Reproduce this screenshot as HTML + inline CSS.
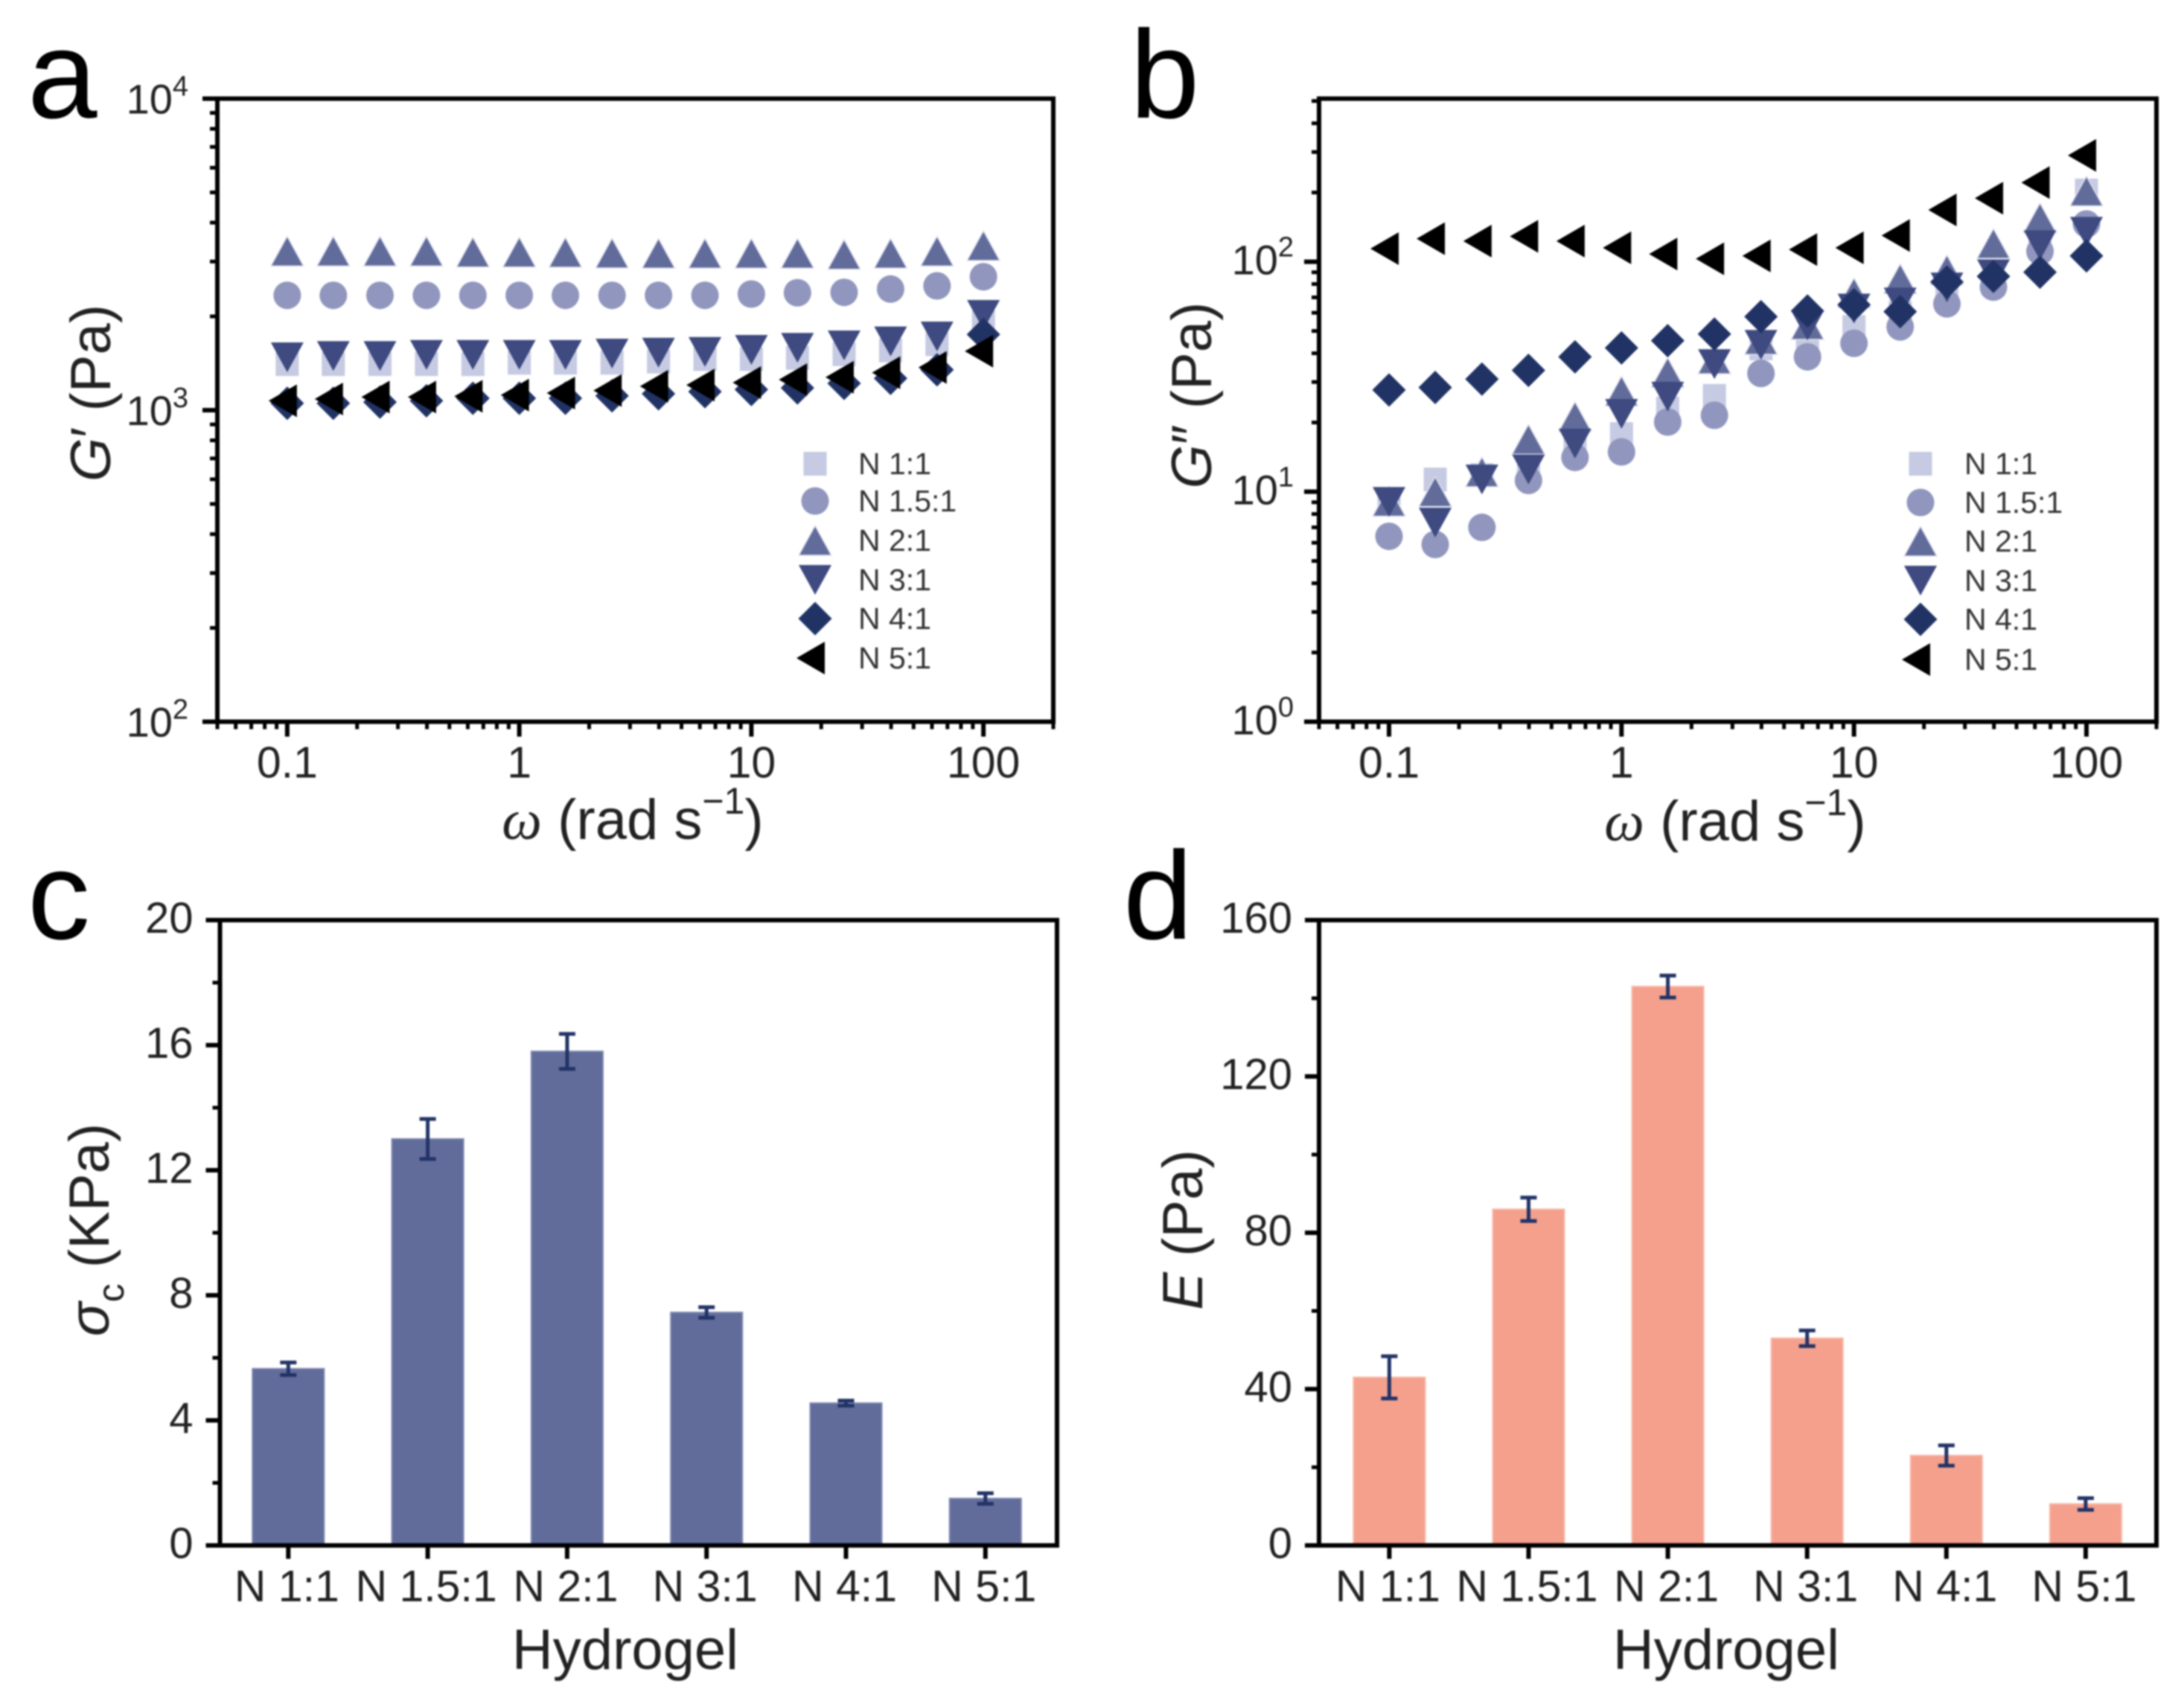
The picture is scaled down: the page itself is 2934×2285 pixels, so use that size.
<!DOCTYPE html>
<html lang="en">
<head>
<meta charset="utf-8">
<title>Hydrogel rheology and compression charts</title>
<style>
html,body{margin:0;padding:0;background:#fff;}
#figure{display:block;width:2934px;height:2285px;filter:blur(1px);font-family:"Liberation Sans",Arial,sans-serif;}
</style>
</head>
<body>
<svg id="figure" xmlns="http://www.w3.org/2000/svg" width="2934" height="2285" viewBox="0 0 2934 2285">
<rect width="2934" height="2285" fill="#ffffff"></rect>
<text x="37" y="158" font-size="168" fill="#000">a</text>
<text x="1518" y="158" font-size="168" fill="#000">b</text>
<text x="37" y="1261" font-size="168" fill="#000">c</text>
<text x="1509" y="1261" font-size="168" fill="#000">d</text>

<text transform="translate(148 528) rotate(-90)" text-anchor="middle" font-size="76" fill="#222"><tspan font-style="italic">G</tspan>′ (Pa)</text>
<text transform="translate(1627 531) rotate(-90)" text-anchor="middle" font-size="76" fill="#222"><tspan font-style="italic">G</tspan>″ (Pa)</text>
<text transform="translate(146 1652) rotate(-90)" text-anchor="middle" font-size="76" fill="#222"><tspan font-style="italic">σ</tspan><tspan font-size="50" dy="20">c</tspan><tspan dy="-20"> (KPa)</tspan></text>
<text transform="translate(1615 1652) rotate(-90)" text-anchor="middle" font-size="76" fill="#222"><tspan font-style="italic">E</tspan> (Pa)</text>

<text x="850" y="1127" text-anchor="middle" font-size="76" fill="#222"><tspan font-family="'Liberation Serif',serif" font-style="italic">ω</tspan> (rad s<tspan font-size="50" dy="-34">−1</tspan><tspan dy="34">)</tspan></text>
<text x="2331" y="1129" text-anchor="middle" font-size="76" fill="#222"><tspan font-family="'Liberation Serif',serif" font-style="italic">ω</tspan> (rad s<tspan font-size="50" dy="-34">−1</tspan><tspan dy="34">)</tspan></text>
<text x="840" y="2242" text-anchor="middle" font-size="76" fill="#222">Hydrogel</text>
<text x="2319" y="2242" text-anchor="middle" font-size="76" fill="#222">Hydrogel</text>
<g id="layer"></g>
</svg>
<script>
/* ---------- shared data ---------- */
const frequencies = [0.1, 0.158, 0.251, 0.398, 0.631, 1, 1.58, 2.51, 3.98, 6.31, 10, 15.8, 25.1, 39.8, 63.1, 100];
const seriesLabels = ['N 1:1', 'N 1.5:1', 'N 2:1', 'N 3:1', 'N 4:1', 'N 5:1'];
const hydrogelLabels = ['N 1:1', 'N 1.5:1', 'N 2:1', 'N 3:1', 'N 4:1', 'N 5:1'];
const logXTickValues = [0.1, 1, 10, 100];
const logXTickLabels = ['0.1', '1', '10', '100'];

/* ---------- panel a: storage modulus ---------- */
const storageN11 = [1406, 1406, 1406, 1406, 1406, 1420, 1420, 1420, 1432, 1459, 1459, 1472, 1513, 1555, 1629, 1914];
const storageN151 = [2337, 2337, 2337, 2337, 2337, 2337, 2337, 2337, 2337, 2337, 2359, 2382, 2389, 2448, 2506, 2681];
const storageN21 = [3240, 3240, 3240, 3240, 3216, 3216, 3211, 3193, 3188, 3188, 3188, 3188, 3163, 3188, 3240, 3374];
const storageN31 = [1478, 1492, 1492, 1505, 1505, 1505, 1505, 1519, 1530, 1538, 1561, 1585, 1614, 1662, 1724, 2022];
const storageN41 = [1052, 1052, 1062, 1072, 1092, 1092, 1092, 1112, 1129, 1147, 1165, 1179, 1219, 1265, 1348, 1750];
const storageN51 = [1072, 1086, 1102, 1102, 1108, 1118, 1135, 1156, 1193, 1204, 1226, 1253, 1276, 1319, 1371, 1547];

/* ---------- panel b: loss modulus ---------- */
const lossN11 = [9.0, 11.3, 11.8, 12.5, 15.5, 17.8, 23, 26.1, 42, 44.8, 52, 60, 72, 80, 122, 204];
const lossN151 = [6.4, 5.9, 7.0, 11.2, 14.1, 14.9, 20.1, 21.5, 32.7, 38.6, 44.2, 52.1, 65.6, 77.6, 111, 146];
const lossN21 = [9.08, 10, 12.2, 16.9, 21.2, 27.4, 33, 37.8, 45.9, 53.3, 73.2, 84.3, 92.2, 120, 155, 203];
const lossN31 = [9.03, 7.34, 11.3, 12.5, 16.2, 21.8, 25.9, 35.9, 43.5, 52.8, 62.6, 66.5, 77.3, 88.2, 118, 135];
const lossN41 = [27.7, 28.4, 30.9, 33.7, 38.6, 42.2, 45.4, 48.5, 57.7, 61.1, 65, 60.7, 81.7, 86.4, 90.1, 106];
const lossN51 = [114, 126, 123, 129, 123, 115, 108, 103, 106, 113, 115, 130, 168, 189, 221, 290];

/* ---------- panel c: compressive stress ---------- */
const stressValues = [5.65, 13.0, 15.8, 7.45, 4.55, 1.5];
const stressErrors = [0.2, 0.64, 0.56, 0.17, 0.08, 0.17];
const stressTicks = [0, 4, 8, 12, 16, 20];
const stressMinorTicks = [2, 6, 10, 14, 18];

/* ---------- panel d: modulus ---------- */
const modulusValues = [43, 86, 143, 53, 23, 10.6];
const modulusErrors = [5.4, 3, 2.8, 2, 2.6, 1.5];
const modulusTicks = [0, 40, 80, 120, 160];
const modulusMinorTicks = [20, 60, 100, 140];

/* ---------- helpers ---------- */
const SVG_NS = 'http://www.w3.org/2000/svg';
const layer = document.getElementById('layer');
function make(tag, attrs, parent) {
  const node = document.createElementNS(SVG_NS, tag);
  for (const key in attrs) node.setAttribute(key, attrs[key]);
  (parent || layer).appendChild(node);
  return node;
}
const markerColors = ['#c6cae2', '#9096bd', '#626c9b', '#3e4a80', '#213365', '#000000'];
function drawMarker(index, cx, cy, parent) {
  const fill = markerColors[index];
  const pts = (list) => list.map((p) => (cx + p[0]) + ',' + (cy + p[1])).join(' ');
  if (index === 0) return make('rect', { x: cx - 15.5, y: cy - 16, width: 31, height: 32, fill: fill }, parent);
  if (index === 1) return make('circle', { cx: cx, cy: cy, r: 18.5, fill: fill }, parent);
  if (index === 2) return make('polygon', { points: pts([[0, -20], [22, 20], [-22, 20]]), fill: fill, stroke: '#e4e6f1', 'stroke-width': 1.5 }, parent);
  if (index === 3) return make('polygon', { points: pts([[0, 20], [22, -20], [-22, -20]]), fill: fill }, parent);
  if (index === 4) return make('polygon', { points: pts([[0, -22.5], [22.5, 0], [0, 22.5], [-22.5, 0]]), fill: fill }, parent);
  return make('polygon', { points: pts([[-25, 0], [13, -22], [13, 22]]), fill: fill }, parent);
}
function drawFrame(panel, box) {
  const frame = make('rect', { x: box.left, y: box.top, width: box.right - box.left, height: box.bottom - box.top, fill: 'none', stroke: '#000', 'stroke-width': 6 });
  
  
}
function tickLine(x1, y1, x2, y2, width) {
  return make('line', { x1: x1, y1: y1, x2: x2, y2: y2, stroke: '#000', 'stroke-width': width });
}
function drawLogPanel(panel, box, yMin, yMax, yExponents, series, legendX, legendTextX, legendRows, labelGap, labelDrop) {
  const xMin = 0.05, xMax = 200;
  const xScale = (v) => box.left + (Math.log10(v) - Math.log10(xMin)) / (Math.log10(xMax) - Math.log10(xMin)) * (box.right - box.left);
  const yScale = (v) => box.bottom - (Math.log10(v) - Math.log10(yMin)) / (Math.log10(yMax) - Math.log10(yMin)) * (box.bottom - box.top);

  /* x ticks */
  for (let e = -2; e <= 2; e++) {
    for (let m = 1; m <= 9; m++) {
      const v = m * Math.pow(10, e);
      if (v < xMin - 1e-9 || v > xMax + 1e-9) continue;
      const major = m === 1;
      const t = tickLine(xScale(v), box.bottom, xScale(v), box.bottom + (major ? 20 : 10), major ? 6 : 5);
      
      
    }
  }
  logXTickValues.forEach((v, i) => {
    const label = make('text', { x: xScale(v), y: box.bottom + 75, 'text-anchor': 'middle', 'font-size': 59, fill: '#222' });
    label.textContent = logXTickLabels[i];
    
    
  });

  /* y ticks */
  const lowExp = Math.floor(Math.log10(yMin));
  const highExp = Math.ceil(Math.log10(yMax));
  for (let e = lowExp; e <= highExp; e++) {
    for (let m = 1; m <= 9; m++) {
      const v = m * Math.pow(10, e);
      if (v < yMin * 0.999 || v > yMax * 1.001) continue;
      const major = m === 1;
      const t = tickLine(box.left, yScale(v), box.left - (major ? 20 : 10), yScale(v), major ? 6 : 5);
      
      
    }
  }
  yExponents.forEach((e) => {
    const y = yScale(Math.pow(10, e)) + labelDrop;
    const label = make('text', { x: box.left - labelGap, y: y, 'text-anchor': 'end', 'font-size': 56, fill: '#222' });
    
    
    const base = make('tspan', {}, label);
    base.textContent = '10';
    
    
    const sup = make('tspan', { dy: -24, 'font-size': 38 }, label);
    sup.textContent = String(e);
    
    
  });

  /* points */
  series.forEach((values, s) => {
    const group = make('g', {});
    
    
    values.forEach((v, i) => {
      const point = drawMarker(s, xScale(frequencies[i]), yScale(v), group);
      
      
    });
  });

  /* legend */
  seriesLabels.forEach((text, s) => {
    const entry = make('g', {});
    
    
    const sym = drawMarker(s, legendX, legendRows[s], entry);
    
    
    const label = make('text', { x: legendTextX, y: legendRows[s] + 14, 'font-size': 41, fill: '#333' }, entry);
    label.textContent = text;
    
    
  });
  drawFrame(panel, box);
}
function drawBarPanel(panel, box, firstCenter, spacing, yMax, values, errors, ticks, minorTicks, fill, edge) {
  const xScale = (i) => firstCenter + i * spacing;
  const yScale = (v) => box.bottom - v / yMax * (box.bottom - box.top);
  const barWidth = 96;
  values.forEach((v, i) => {
    const bar = make('rect', { x: xScale(i) - barWidth / 2, y: yScale(v), width: barWidth, height: box.bottom - yScale(v), fill: fill, stroke: edge, 'stroke-width': 2 });
    
    
  });
  errors.forEach((err, i) => {
    const group = make('g', { stroke: '#223366', 'stroke-width': 5, fill: 'none' });
    
    
    const cx = xScale(i);
    const hi = yScale(values[i] + err);
    const lo = yScale(values[i] - err);
    make('line', { x1: cx, y1: hi, x2: cx, y2: lo }, group);
    make('line', { x1: cx - 11, y1: hi, x2: cx + 11, y2: hi }, group);
    make('line', { x1: cx - 11, y1: lo, x2: cx + 11, y2: lo }, group);
  });
  hydrogelLabels.forEach((text, i) => {
    const t = tickLine(xScale(i), box.bottom, xScale(i), box.bottom + 18, 6);
    
    
    const label = make('text', { x: xScale(i) - 2, y: box.bottom + 75, 'text-anchor': 'middle', 'font-size': 59, fill: '#222' });
    label.textContent = text;
    
    
  });
  ticks.forEach((v) => {
    const t = tickLine(box.left, yScale(v), box.left - 19, yScale(v), 6);
    
    
    const label = make('text', { x: box.left - 36, y: yScale(v) + 17, 'text-anchor': 'end', 'font-size': 58, fill: '#222' });
    label.textContent = String(v);
    
    
  });
  minorTicks.forEach((v) => {
    const t = tickLine(box.left, yScale(v), box.left - 10, yScale(v), 5);
    
    
  });
  drawFrame(panel, box);
}

/* ---------- render ---------- */
drawLogPanel('a', { left: 292, right: 1415, top: 132.5, bottom: 969.5 }, 100, 10000, [4, 3, 2],
  [storageN11, storageN151, storageN21, storageN31, storageN41, storageN51],
  1095, 1153, [623, 673, 726, 779, 831, 884], 39, 20);
drawLogPanel('b', { left: 1772, right: 2897, top: 132.5, bottom: 969.5 }, 1, 512, [2, 1, 0],
  [lossN11, lossN151, lossN21, lossN31, lossN41, lossN51],
  2580, 2639, [623, 675, 727, 780, 832, 886], 34, 17);
drawBarPanel('c', { left: 295.5, right: 1420, top: 1236, bottom: 2076 }, 387.3, 187.3, 20,
  stressValues, stressErrors, stressTicks, stressMinorTicks, '#626c9b', '#7b85ad');
drawBarPanel('d', { left: 1772, right: 2897, top: 1236, bottom: 2076 }, 1866.4, 187.1, 160,
  modulusValues, modulusErrors, modulusTicks, modulusMinorTicks, '#f4a08d', '#f8b6a6');
</script>
</body>
</html>
